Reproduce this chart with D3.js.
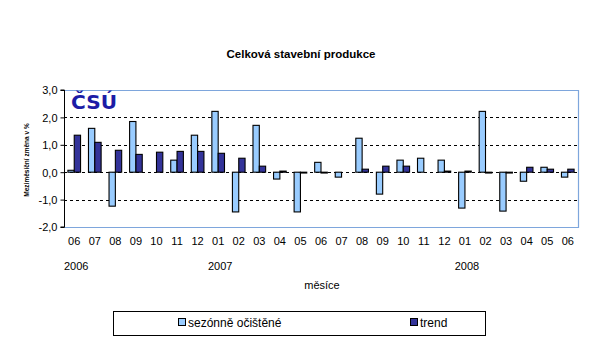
<!DOCTYPE html>
<html><head><meta charset="utf-8">
<script src="https://cdn.jsdelivr.net/npm/d3@7"></script>
<style>body{margin:0;background:#fff}svg{display:block;font-family:"Liberation Sans",Arial,sans-serif}</style>
</head><body><svg id="c" width="604" height="344"></svg>
<script>
const months = ["06","07","08","09","10","11","12","01","02","03","04","05","06","07","08","09","10","11","12","01","02","03","04","05","06"];
const years = [{label:"2006", index:0},{label:"2007", index:7},{label:"2008", index:19}];
const sezonne = [0.07,1.60,-1.24,1.85,0.00,0.44,1.35,2.22,-1.45,1.71,-0.25,-1.45,0.36,-0.18,1.24,-0.80,0.44,0.51,0.44,-1.31,2.22,-1.42,-0.33,0.18,-0.18];
const trend   = [1.35,1.09,0.80,0.65,0.73,0.76,0.76,0.69,0.51,0.22,0.04,-0.03,-0.03,0.00,0.11,0.22,0.22,0.00,0.04,0.04,-0.03,-0.03,0.18,0.11,0.11];
const yTicks = [3,2,1,0,-1,-2];
const seriesNames = ["sezónně očištěné","trend"];
const colors = ["#99ccff","#333399"];

const svg = d3.select("#c");
const L=64, R=578, T=90, B=227;
const x = d3.scaleBand().domain(d3.range(months.length)).range([L,R]).paddingInner(0.385).paddingOuter(0.19);
const x1 = d3.scaleBand().domain([0,1]).range([0,x.bandwidth()]);
const y = d3.scaleLinear().domain([-2,3]).range([B,T]);
const fmt = v => d3.format(".1f")(v).replace(".",",").replace("−","-");

// title
svg.append("text").attr("x",301).attr("y",58).attr("text-anchor","middle")
  .attr("font-size",11.5).attr("font-weight","bold").text("Celková stavební produkce");

// gridlines
svg.append("g").selectAll("line").data(yTicks.filter(d=>d!==3&&d!==-2)).join("line")
  .attr("x1",L).attr("x2",R).attr("y1",d=>Math.round(y(d))+0.5).attr("y2",d=>Math.round(y(d))+0.5)
  .attr("stroke","#000").attr("stroke-dasharray","3,3");

// plot border (light blue)
svg.append("path").attr("d",`M${L},${T+0.5}H${R+0.5}V${B+0.5}H${L}`)
  .attr("fill","none").attr("stroke","#7ea6dc").attr("stroke-width",1.2);

// bars
const series = [sezonne, trend];
series.forEach((s,si)=>{
  svg.append("g").selectAll("rect").data(s).join("rect")
    .attr("x",(d,i)=>x(i)+x1(si))
    .attr("width",x1.bandwidth())
    .attr("y",d=>y(Math.max(0,d)))
    .attr("height",d=>Math.abs(y(d)-y(0)))
    .attr("fill",colors[si]).attr("stroke","#000").attr("stroke-width",1.1);
});

// y axis
const ya = d3.axisLeft(y).tickValues(yTicks).tickSize(4).tickFormat(fmt);
const yg = svg.append("g").attr("transform",`translate(${L+0.5},0)`).call(ya);
yg.select(".domain").attr("stroke","#000").attr("d",`M-4,${T}H0V${B}H-4`);
yg.selectAll(".tick line").attr("stroke","#000");
yg.selectAll(".tick text").attr("font-size",11).attr("font-family","Liberation Sans, Arial").attr("fill","#000").attr("x",-7).attr("dy","0.35em");

// y label
svg.append("text").attr("transform","translate(29,160) rotate(-90)").attr("text-anchor","middle")
  .attr("font-size",6.5).attr("font-weight","bold").text("Meziměsíční změna v %");

// x labels
const xa = d3.axisBottom(x).tickSize(0).tickFormat(i=>months[i]);
const xg = svg.append("g").attr("transform",`translate(0,${B})`).call(xa);
xg.select(".domain").remove();
xg.selectAll(".tick text").attr("font-size",11).attr("font-family","Liberation Sans, Arial").attr("fill","#000").attr("y",10);

svg.append("g").selectAll("text").data(years).join("text")
  .attr("x",d=>x(d.index)+x.bandwidth()/2+2).attr("y",270).attr("text-anchor","middle")
  .attr("font-size",11).text(d=>d.label);

svg.append("text").attr("x",322).attr("y",289).attr("text-anchor","middle").attr("font-size",11).text("měsíce");

// logo
svg.append("text").attr("x",71).attr("y",109).attr("font-family","DejaVu Sans").attr("font-weight","bold")
  .attr("font-size",19).attr("fill","#1c1ca6").attr("textLength",46).attr("lengthAdjust","spacingAndGlyphs")
  .text("ČSÚ");

// legend
svg.append("rect").attr("x",113.5).attr("y",311.5).attr("width",372).attr("height",24).attr("fill","#fff").attr("stroke","#000");
const legX = [178,410];
seriesNames.forEach((n,i)=>{
  svg.append("rect").attr("x",legX[i]+0.5).attr("y",318.5).attr("width",7).attr("height",7).attr("fill",colors[i]).attr("stroke","#000");
  svg.append("text").attr("x",legX[i]+10).attr("y",327).attr("font-size",12).text(n);
});
</script></body></html>
